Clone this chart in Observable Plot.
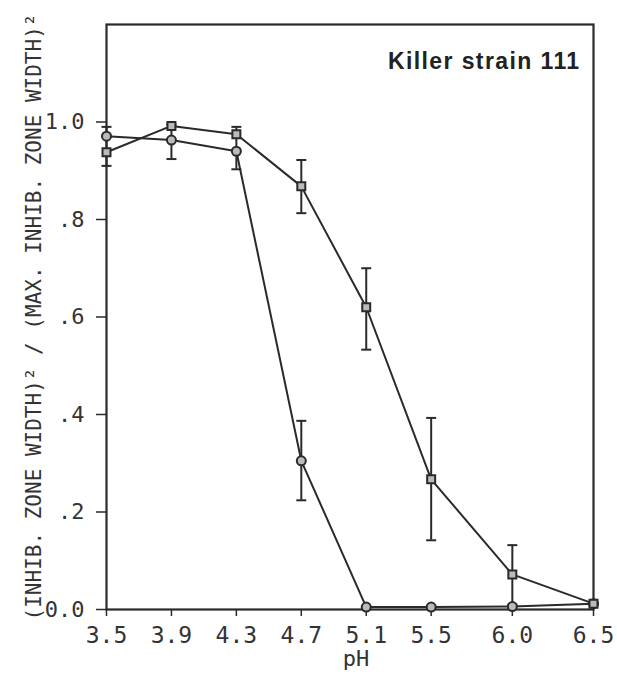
<!DOCTYPE html>
<html>
<head>
<meta charset="utf-8">
<script src="https://cdn.jsdelivr.net/npm/d3@7"></script>
<script src="https://cdn.jsdelivr.net/npm/@observablehq/plot@0.6"></script>
<style>
  html, body { margin: 0; padding: 0; background: #fff; }
</style>
</head>
<body>
<div id="chart"></div>
<script>
// ---- data ----
const pH = [3.5, 3.9, 4.3, 4.7, 5.1, 5.5, 6.0, 6.5];
const circleSeries = [0.971, 0.963, 0.940, 0.305, 0.005, 0.005, 0.006, 0.012];
const squareSeries = [0.938, 0.992, 0.975, 0.868, 0.620, 0.267, 0.072, 0.012];

const errX    = [3.5,  3.9,   4.3,   4.7,   4.7,   5.1,   5.5,   6.0];
const errLow  = [0.91, 0.924, 0.903, 0.813, 0.224, 0.533, 0.142, 0.01];
const errHigh = [0.99, 0.995, 0.99,  0.922, 0.387, 0.700, 0.393, 0.132];

const xTicks = [3.5, 3.9, 4.3, 4.7, 5.1, 5.5, 6.0, 6.5];
const xTickLabels = ["3.5", "3.9", "4.3", "4.7", "5.1", "5.5", "6.0", "6.5"];
const yTicks = [0, 0.2, 0.4, 0.6, 0.8, 1.0];
const yTickLabels = ["0.0", ".2", ".4", ".6", ".8", "1.0"];

const annotation = ["Killer strain 111"];
const xLabel = ["pH"];
const yLabel = ["(INHIB. ZONE WIDTH)² / (MAX. INHIB. ZONE WIDTH)²"];

// ---- build tables ----
const circles = pH.map((x, i) => ({x, y: circleSeries[i]}));
const squares = pH.map((x, i) => ({x, y: squareSeries[i]}));
const errs = errX.map((x, i) => ({x, lo: errLow[i], hi: errHigh[i]}));

const cap = {draw(ctx, size) { const r = Math.sqrt(size / Math.PI); ctx.moveTo(-r, 0); ctx.lineTo(r, 0); }};
const ink = "#2a2a2a";

const chart = Plot.plot({
  width: 617,
  height: 674,
  marginLeft: 106,
  marginRight: 24,
  marginTop: 24,
  marginBottom: 65,
  style: {fontFamily: "'DejaVu Sans Mono', monospace", color: "#333", background: "#fff"},
  x: {domain: [3.5, 6.5]},
  y: {domain: [0, 1.2]},
  marks: [
    Plot.axisX({ticks: xTicks, tickFormat: (d) => xTickLabels[xTicks.indexOf(d)], tickSize: 7, tickPadding: 10,
      fontSize: 23, stroke: ink, strokeWidth: 1.5, label: null}),
    Plot.axisY({ticks: yTicks, tickFormat: (d) => yTickLabels[yTicks.findIndex(t => Math.abs(t - d) < 1e-9)], tickSize: 10, tickPadding: 12,
      fontSize: 22, stroke: ink, strokeWidth: 1.5, label: null}),
    Plot.text(yLabel, {frameAnchor: "left", textAnchor: "middle", lineAnchor: "middle", dx: -72, rotate: -90, fontSize: 21, fill: "#333"}),
    Plot.text(xLabel, {frameAnchor: "bottom", textAnchor: "middle", lineAnchor: "middle", dx: 6, dy: 49, fontSize: 22, fill: "#333"}),
    Plot.frame({stroke: ink, strokeWidth: 2.2}),
    Plot.ruleX(errs, {x: "x", y1: "lo", y2: "hi", stroke: ink, strokeWidth: 2}),
    Plot.dot(errs, {x: "x", y: "lo", symbol: cap, r: 5, stroke: ink, strokeWidth: 2, fill: "none"}),
    Plot.dot(errs, {x: "x", y: "hi", symbol: cap, r: 5, stroke: ink, strokeWidth: 2, fill: "none"}),
    Plot.line(circles, {x: "x", y: "y", stroke: ink, strokeWidth: 2}),
    Plot.line(squares, {x: "x", y: "y", stroke: ink, strokeWidth: 2}),
    Plot.dot(circles, {x: "x", y: "y", symbol: "circle", r: 4.5, stroke: ink, strokeWidth: 2, fill: "#bbb"}),
    Plot.dot(squares, {x: "x", y: "y", symbol: "square", r: 4.5, stroke: ink, strokeWidth: 2, fill: "#bbb"}),
    Plot.text(annotation, {frameAnchor: "top-right", dx: -13, dy: 28, fontFamily: "'Liberation Sans', Arial, sans-serif",
      fontWeight: "bold", fontSize: 23, fill: "#222", style: "letter-spacing: 1.4px"})
  ]
});
chart.querySelectorAll("text").forEach(t => { if (t.textContent === annotation[0]) t.setAttribute("letter-spacing", "1.4"); });
document.getElementById("chart").appendChild(chart);
</script>
</body>
</html>
